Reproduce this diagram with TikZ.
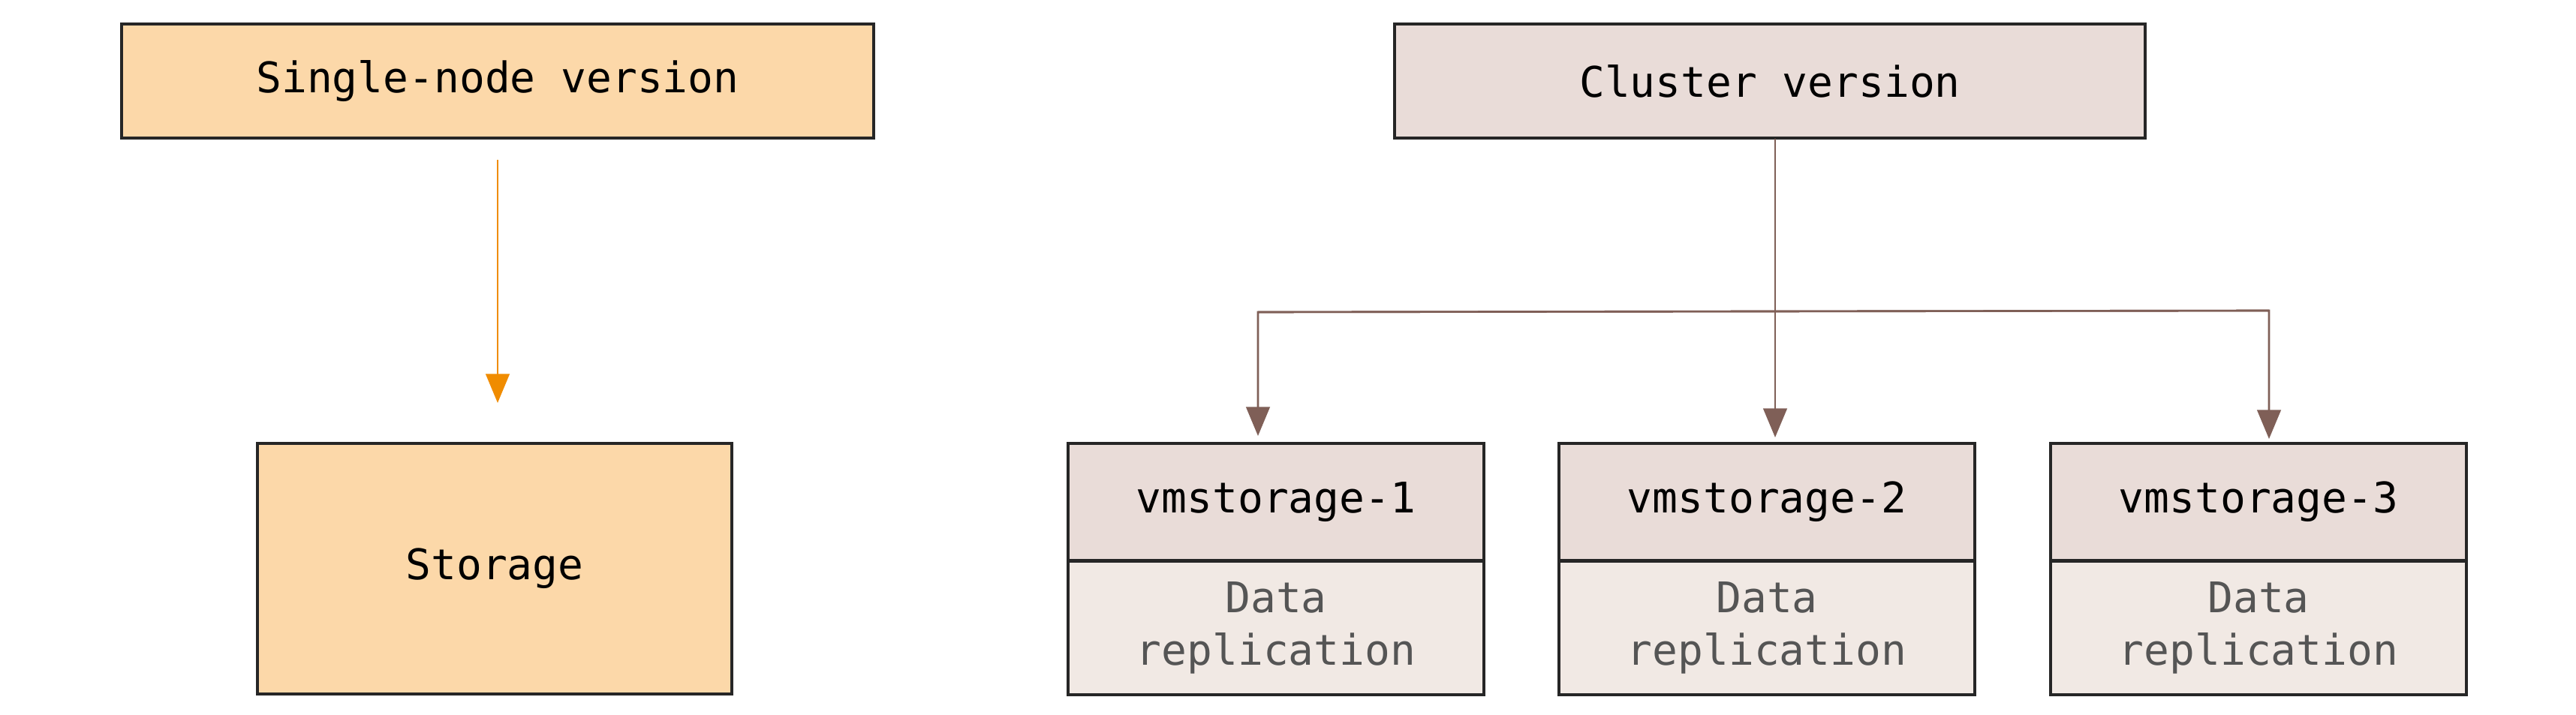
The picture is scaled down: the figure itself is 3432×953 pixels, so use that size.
\documentclass[tikz,border=0pt]{standalone}
\usepackage{fontspec}
\setmainfont{DejaVu Sans Mono}
\usetikzlibrary{arrows.meta}
\definecolor{orf}{HTML}{FCD8A9}
\definecolor{clf}{HTML}{E9DCD8}
\definecolor{clb}{HTML}{F1E9E4}
\definecolor{ora}{HTML}{F08C00}
\definecolor{brn}{HTML}{7F5F57}
\definecolor{gtx}{HTML}{555555}
\begin{document}
\begin{tikzpicture}[x=0.02cm,y=-0.02cm,
 box/.style={draw=black!85,line width=2.2pt,inner sep=0pt,font=\fontsize{32}{40}\selectfont},
 arr/.style={line width=1.5pt,-{Triangle[length=22pt,width=18pt]}}]
\useasboundingbox (0,0) rectangle (3432,953);
\node[box,fill=orf,minimum width=570pt,minimum height=87pt] (single) at (663,108) {Single-node version};
\node[box,fill=orf,minimum width=360pt,minimum height=190pt] (storage) at (659,758) {Storage};
\coordinate (s0) at (663,213);
\coordinate (s1) at (663,537);
\draw[arr,ora] (s0) -- (s1);
\node[box,fill=clf,minimum width=569pt,minimum height=87pt] (cluster) at (2358,108) {Cluster version};
\foreach \i/\x in {1/1700,2/2354,3/3009}{
 \node[box,fill=clb,minimum width=315pt,minimum height=101pt,text=gtx,align=center] (d\i) at (\x,837) {Data\\replication};
 \node[box,fill=clf,minimum width=315pt,minimum height=89pt] (v\i) at (\x,669) {vmstorage-\i};
}
\coordinate (c0) at (2365,185);
\coordinate (e1) at (1676,581);
\coordinate (e2) at (2365,583);
\coordinate (e3) at (3023,585);
\coordinate (h1) at (1676,416);
\coordinate (h3) at (3023,414);
\draw[arr,brn] (c0) -- (e2);
\draw[arr,brn] (h3) -- (h1) -- (e1);
\draw[arr,brn] (h1) -- (h3) -- (e3);
\end{tikzpicture}
\end{document}
